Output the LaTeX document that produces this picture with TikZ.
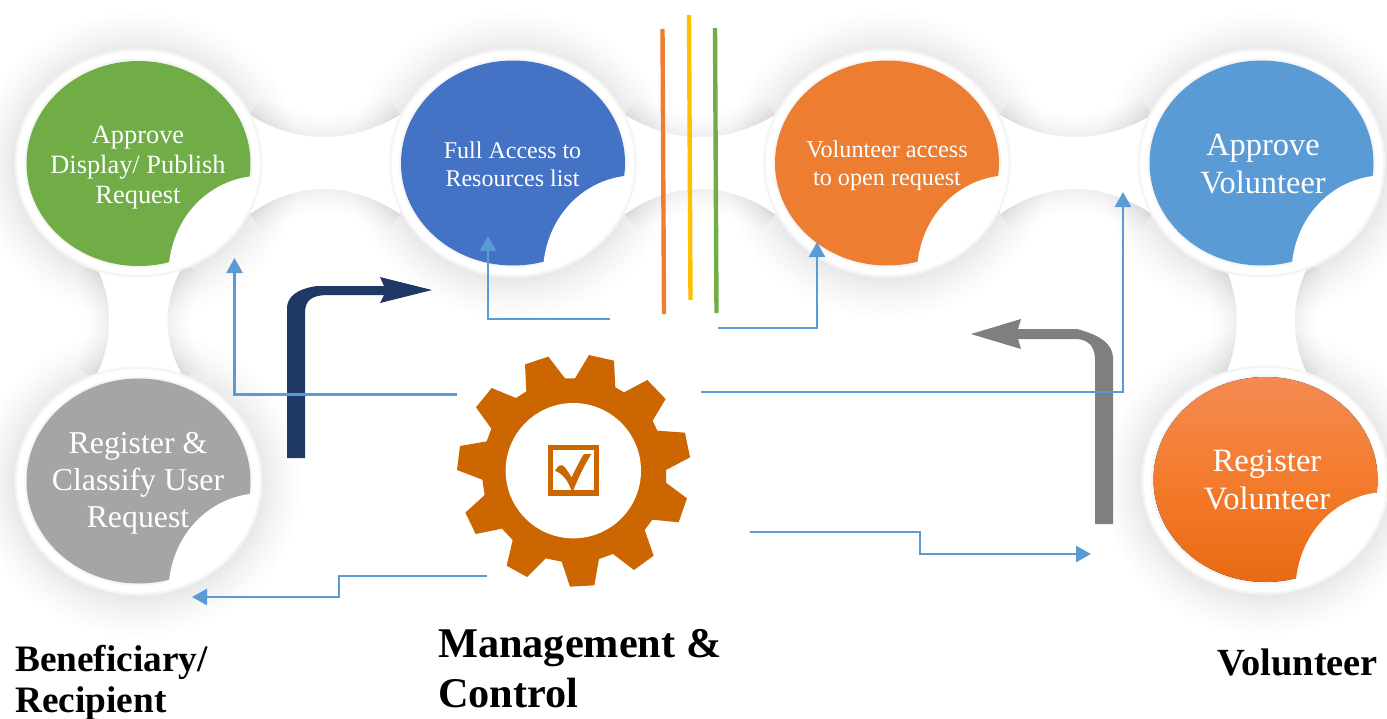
\documentclass[tikz,border=0pt]{standalone}
\usepackage{fontspec}
\setmainfont{Liberation Serif}
\usetikzlibrary{arrows.meta}
\definecolor{flowblue}{HTML}{5B9BD5}
\definecolor{navyarrow}{HTML}{1F3864}
\definecolor{grayarrow}{HTML}{7F7F7F}
\definecolor{gearorange}{HTML}{CC6600}
\definecolor{cgreen}{HTML}{70AD47}
\definecolor{cblue}{HTML}{4472C4}
\definecolor{corange}{HTML}{ED7D31}
\definecolor{csky}{HTML}{5B9BD5}
\definecolor{cgray}{HTML}{A5A5A5}
\definecolor{cyellow}{HTML}{FFC000}
\definecolor{volTop}{HTML}{F48B52}
\definecolor{volMid}{HTML}{F47B2D}
\definecolor{volBot}{HTML}{E96A14}
\tikzset{
  flow/.style={draw=flowblue,line width=2.6pt,-{Triangle[length=15pt,width=16pt]}},
  disctext/.style={text=white,align=center,inner sep=0pt},
  boldlabel/.style={text=black,align=left,inner sep=0pt,anchor=base west,font=\bfseries},
  stripe/.style={line width=4.4pt},
}
% one circle: centre x, y; fill options
\newcommand{\discshape}[3]{%
  \fill[#3] (#1,#2) ellipse [x radius=112,y radius=102.5];
  \begin{scope}
    \clip (#1,#2) ellipse [x radius=118,y radius=108];
    \fill[white] (#1+111.5,#2+13) .. controls (#1+72,#2+18) and (#1+36,#2+50) .. (#1+30.5,#2+100)
       -- (#1+30,#2+125) -- (#1+135,#2+125) -- (#1+135,#2+13) -- cycle;
  \end{scope}
}
\newcommand{\discbase}[2]{%
  \fill[black!4] (#1,#2) ellipse [x radius=124,y radius=114.5];
  \fill[white] (#1,#2) ellipse [x radius=121.5,y radius=112];
  \fill[black!4] (#1,#2) ellipse [x radius=114,y radius=104.5];
}
\newcommand{\discshadow}[2]{%
  \foreach \r in {2,4,7,10,13,16,20,24,28,33,38}
    \fill[black,opacity=.007] (#1,#2+2) ellipse [x radius=124+\r,y radius=114.5+\r];
}
\begin{document}
\begin{tikzpicture}[x=1pt,y=-1pt]
\useasboundingbox (0,0) rectangle (1387,718);
\clip (0,0) rectangle (1387,718);
\fill[white] (0,0) rectangle (1387,718);

% soft shadows
\discshadow{138.5}{163}
\discshadow{513}{163}
\discshadow{887}{163}
\discshadow{1261.5}{163}
\discshadow{138.5}{481}
\discshadow{1265}{480}

% horizontal connecting bands
\foreach \xa/\xm/\xb in {250/323/400, 625/700/775, 1000/1075/1152}{
  \foreach \w in {4,8,13,18,24,30,38,46}{
    \draw[black,opacity=.007,line width=\w pt] (\xa,115) .. controls (\xm-27,144.3) and (\xm+27,144.3) .. (\xb,115);
    \draw[black,opacity=.007,line width=\w pt] (\xa,214) .. controls (\xm-27,180.7) and (\xm+27,180.7) .. (\xb,214);
  }
  \fill[white] (\xa,115) .. controls (\xm-27,144.3) and (\xm+27,144.3) .. (\xb,115)
     -- (\xb,214) .. controls (\xm+27,180.7) and (\xm-27,180.7) .. (\xa,214) -- cycle;
}
% vertical connecting bands
\foreach \la/\lc/\ra/\rc/\ya/\yb in {95/114/184/162/264/378, 1224/1241/1309/1290/264/378}{
  \foreach \w in {4,8,13,18,24,30,38,46}{
    \draw[black,opacity=.007,line width=\w pt] (\la,\ya) .. controls (\lc,\ya+36) and (\lc,\yb-36) .. (\la,\yb);
    \draw[black,opacity=.007,line width=\w pt] (\ra,\ya) .. controls (\rc,\ya+36) and (\rc,\yb-36) .. (\ra,\yb);
  }
  \fill[white] (\la,\ya) .. controls (\lc,\ya+36) and (\lc,\yb-36) .. (\la,\yb)
     -- (\ra,\yb) .. controls (\rc,\yb-36) and (\rc,\ya+36) .. (\ra,\ya) -- cycle;
}

% circles
\discbase{138.5}{163}
\discbase{513}{163}
\discbase{887}{163}
\discbase{1261.5}{163}
\discbase{138.5}{481}
\discbase{1265}{480}
\discshape{138.5}{163.5}{fill=cgreen}
\discshape{513}{163}{fill=cblue}
\discshape{887}{163}{fill=corange}
\discshape{1261.5}{163}{fill=csky}
\discshape{138.5}{481}{fill=cgray}
\discshape{1265.5}{479.5}{top color=volTop,bottom color=volBot,middle color=volMid}

% circle texts
\node[disctext,font=\fontsize{26.4}{30}\selectfont] (tgreen) at (138,168) {Approve\\Display/ Publish\\Request};
\node[disctext,font=\fontsize{24}{28}\selectfont] (tblue) at (512.5,164) {Full Access to\\Resources list};
\node[disctext,font=\fontsize{24.2}{28}\selectfont] (torange) at (887,166) {Volunteer access\\to open request};
\node[disctext,font=\fontsize{32.4}{38}\selectfont] (tsky) at (1263,164.5) {Approve\\Volunteer};
\node[disctext,font=\fontsize{31.8}{37}\selectfont] (tgray) at (138,483) {Register \&\\Classify User\\Request};
\node[disctext,font=\fontsize{32.6}{37.5}\selectfont] (tvol) at (1267,480) {Register\\Volunteer};

% three stripes
\coordinate (sa1) at (662.5,29); \coordinate (sa2) at (664,314);
\coordinate (sb1) at (689,15);   \coordinate (sb2) at (690.5,300);
\coordinate (sc1) at (715,28);   \coordinate (sc2) at (716.5,313);
\draw[stripe,draw=corange] (sa1) -- (sa2);
\draw[stripe,draw=cyellow] (sb1) -- (sb2);
\draw[stripe,draw=cgreen] (sc1) -- (sc2);

% big bent arrows
\fill[navyarrow] (287,458) -- (287,307) .. controls (288,297) and (296,289) .. (317,286)
  -- (384,286) -- (380,277) -- (432,290) -- (380,303) -- (384,295) -- (325,295)
  .. controls (312,296) and (305,300) .. (305,313) -- (305,458) -- cycle;
\fill[grayarrow] (1113,524) -- (1113,357) .. controls (1112,345) and (1103,336) .. (1077,329)
  -- (1018,329) -- (1021,319) -- (971,334) -- (1021,349) -- (1018,339) -- (1077,339)
  .. controls (1090,340) and (1095,348) .. (1095,360) -- (1095,524) -- cycle;

% thin connectors
\coordinate (f1a) at (457,394.5); \coordinate (f1b) at (234.5,258);
\coordinate (f2a) at (610,319);   \coordinate (f2b) at (488,236);
\coordinate (f3a) at (718,328);   \coordinate (f3b) at (817,242);
\coordinate (f4a) at (701,392);   \coordinate (f4b) at (1123,192);
\coordinate (f5a) at (750,532);   \coordinate (f5m) at (920,554);   \coordinate (f5b) at (1091,554);
\coordinate (f6a) at (487,576);   \coordinate (f6m) at (339,597);   \coordinate (f6b) at (192,597);
\draw[flow] (f1a) -| (f1b);
\draw[flow] (f2a) -| (f2b);
\draw[flow] (f3a) -| (f3b);
\draw[flow] (f4a) -| (f4b);
\draw[flow] (f5a) -| (f5m) -- (f5b);
\draw[flow] (f6a) -| (f6m) -- (f6b);

% gear
\begin{scope}[shift={(430,330)},x=0.33333pt,y=-0.33333pt]
  \fill[gearorange] (355,80) -- (405,145) -- (435,145) -- (477,75) -- (552,92) -- (556,172) -- (582,187) -- (652,150) -- (707,207) -- (668,272) -- (682,302) -- (765,308) -- (780,382) -- (708,420) -- (708,458) -- (771,505) -- (746,577) -- (667,569) -- (644,600) -- (671,677) -- (612,720) -- (549,672) -- (507,687) -- (493,766) -- (420,770) -- (395,695) -- (347,685) -- (291,741) -- (230,707) -- (248,630) -- (216,596) -- (137,612) -- (106,548) -- (164,495) -- (157,449) -- (81,420) -- (90,348) -- (170,334) -- (184,296) -- (138,232) -- (185,174) -- (258,204) -- (289,184) -- (285,103) -- cycle;
  \fill[white] (430,422) ellipse [x radius=203,y radius=203];
  \fill[gearorange] (354,345) rectangle (507,497);
  \fill[white] (370,361) rectangle (491,480);
  \fill[gearorange] (375,422) .. controls (385,405) and (395,400) .. (405,412) -- (425,442) .. controls (435,420) and (450,390) .. (462,372) -- (484,372) .. controls (460,410) and (445,445) .. (430,480) -- (424,480) .. controls (415,455) and (400,432) .. (375,422) -- cycle;
\end{scope}

% headings
\node[boldlabel,font=\bfseries\fontsize{42.3}{50}\selectfont] (lmc1) at (438,657) {Management \&};
\node[boldlabel,font=\bfseries\fontsize{42.3}{50}\selectfont] (lmc2) at (438,707) {Control};
\node[boldlabel,font=\bfseries\fontsize{37.3}{41}\selectfont] (lben1) at (15,671) {Beneficiary/};
\node[boldlabel,font=\bfseries\fontsize{37.3}{41}\selectfont] (lben2) at (15,712) {Recipient};
\node[boldlabel,font=\bfseries\fontsize{38.4}{41}\selectfont] (lvol) at (1217,675) {Volunteer};
\end{tikzpicture}
\end{document}
